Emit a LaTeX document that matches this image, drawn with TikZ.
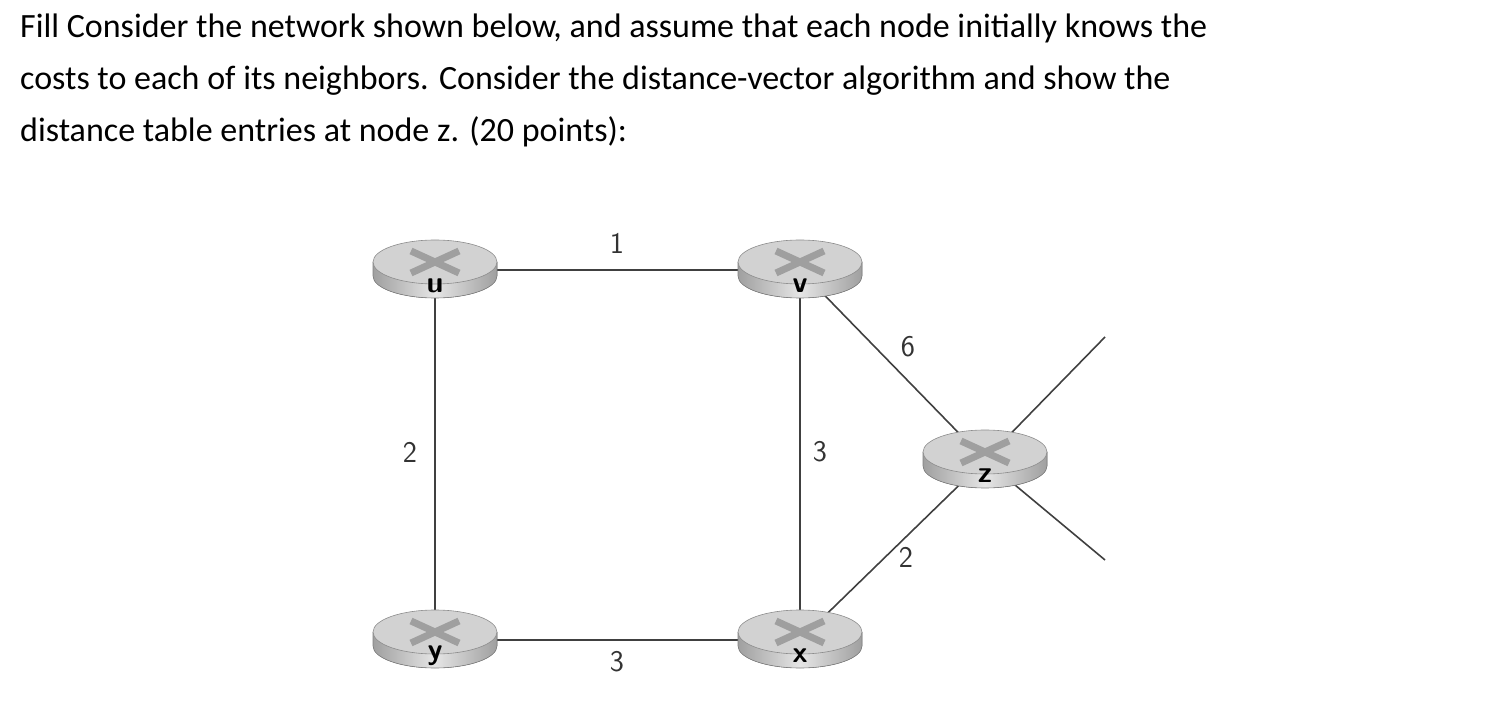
\documentclass[tikz,border=0pt]{standalone}
\usepackage{fontspec}
\setmainfont{Carlito}
\usetikzlibrary{calc}
\begin{document}
\begin{tikzpicture}[x=1pt,y=-1pt,
  edge/.style={line width=1.6pt,draw=black!75},
  lab/.style={font=\fontsize{30}{30}\selectfont\sffamily, text=black!80},
  router/.pic={
    \fill[left color=gray!75,right color=gray!75,middle color=gray!20] (-62,-8) -- (-62,6) arc[start angle=180,end angle=0,x radius=62,y radius=22] -- (62,-8) -- cycle;
    \draw[black!50,line width=0.6pt] (-62,-8) -- (-62,6) arc[start angle=180,end angle=0,x radius=62,y radius=22] -- (62,-8);
    \fill[gray!35] (0,-8) ellipse[x radius=62,y radius=22];
    \draw[black!45,line width=0.6pt] (0,-8) ellipse[x radius=62,y radius=22];
    \draw[gray!75,line width=7pt] (-24,-19) -- (24,3) (-24,3) -- (24,-19);
  }]
\useasboundingbox (0,0) rectangle (1492,708);
\node[anchor=north west,align=left,inner sep=0pt,font=\fontsize{34}{52}\selectfont] (t) at (20,14)
 {Fill Consider the network shown below, and assume that each node initially knows the\\
  costs to each of its neighbors. Consider the distance-vector algorithm and show the\\
  distance table entries at node z. (20 points):};
\coordinate (u) at (435,270); \coordinate (v) at (800,270);
\coordinate (y) at (435,640); \coordinate (x) at (800,640);
\coordinate (z) at (985,460);
\coordinate (z1) at (1105,337); \coordinate (z2) at (1105,560);
\draw[edge] (u) -- (v) (u) -- (y) (v) -- (x) (y) -- (x) (v) -- (z) (x) -- (z) (z) -- (z1) (z) -- (z2);
\foreach \n in {u,v,y,x,z} {\pic at (\n) {router};}
\foreach \n in {u,v,y,x,z} {\node[font=\fontsize{30}{30}\selectfont\bfseries\sffamily] (L\n) at ($(\n)+(0,16)$) {\n};}
\node[lab] (l1) at (617,243) {1};
\node[lab] (l2) at (410,452) {2};
\node[lab] (l3) at (820,452) {3};
\node[lab] (l4) at (617,662) {3};
\node[lab] (l6) at (908,347) {6};
\node[lab] (l5) at (906,557) {2};
\end{tikzpicture}
\end{document}
